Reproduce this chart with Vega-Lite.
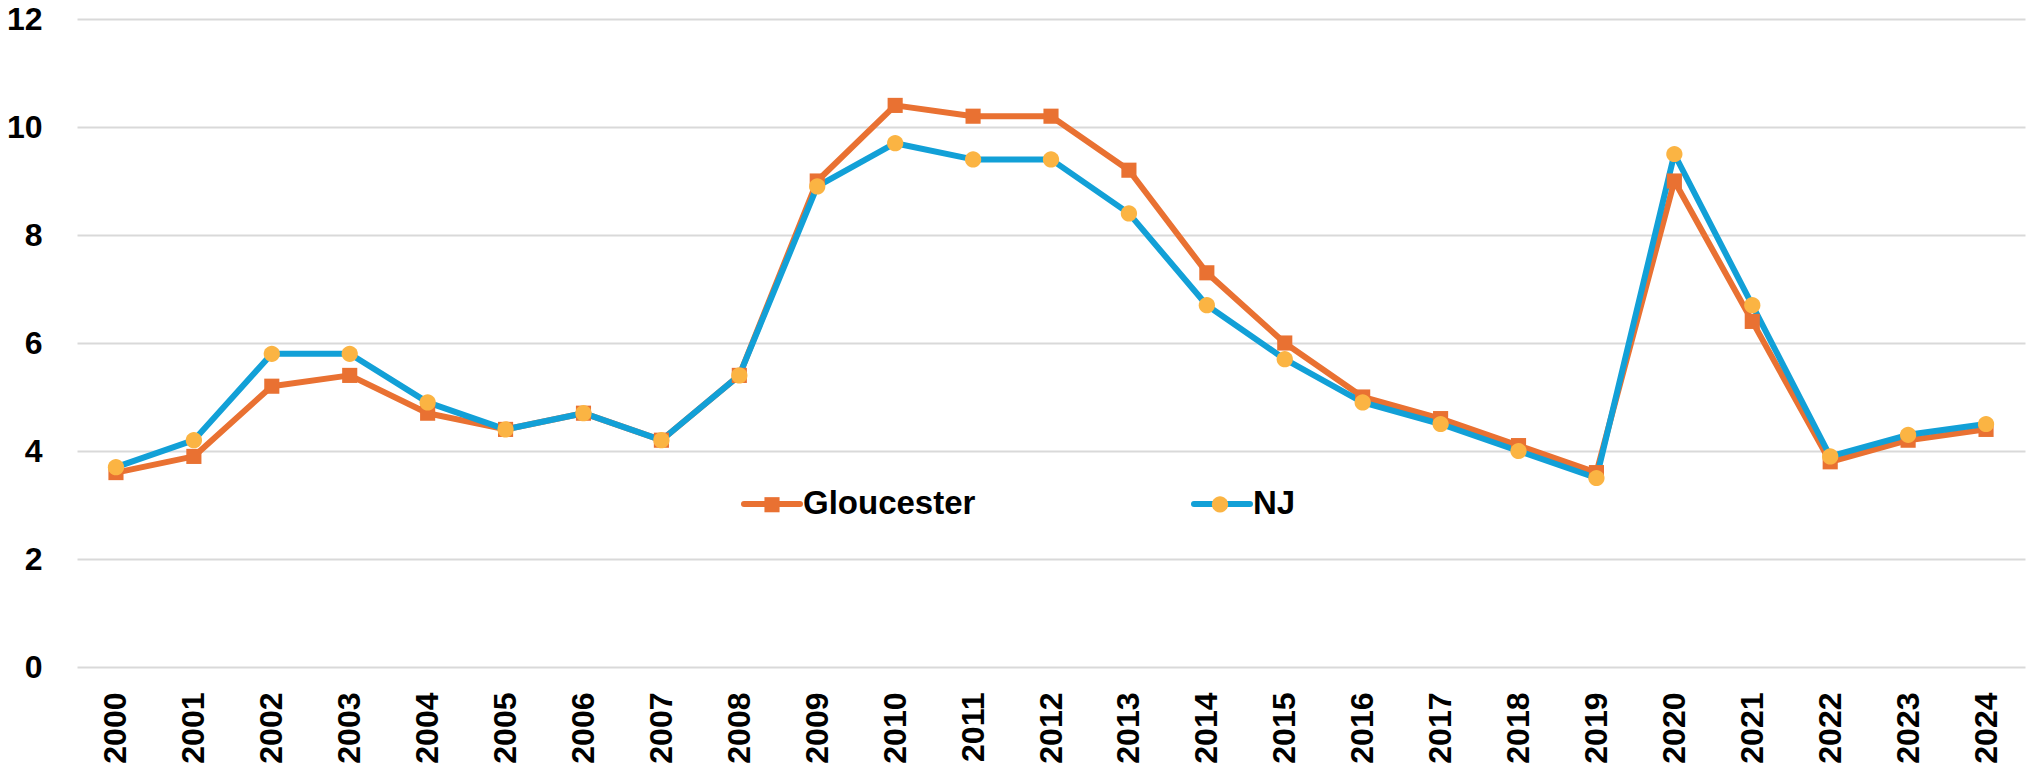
{
  "$schema": "https://vega.github.io/schema/vega-lite/v6.json",
  "width": 1948,
  "height": 648,
  "autosize": {"type": "none"},
  "padding": {"left": 77, "top": 19, "right": 3, "bottom": 104},
  "config": {
    "view": {"stroke": null},
    "font": "Liberation Sans",
    "axis": {"labelFont": "Liberation Sans", "labelFontWeight": "bold", "labelFontSize": 32, "labelColor": "#000000", "title": null}
  },
  "data": {
    "values": [
      {"year": "2000", "series": "Gloucester", "value": 3.6},
      {"year": "2001", "series": "Gloucester", "value": 3.9},
      {"year": "2002", "series": "Gloucester", "value": 5.2},
      {"year": "2003", "series": "Gloucester", "value": 5.4},
      {"year": "2004", "series": "Gloucester", "value": 4.7},
      {"year": "2005", "series": "Gloucester", "value": 4.4},
      {"year": "2006", "series": "Gloucester", "value": 4.7},
      {"year": "2007", "series": "Gloucester", "value": 4.2},
      {"year": "2008", "series": "Gloucester", "value": 5.4},
      {"year": "2009", "series": "Gloucester", "value": 9.0},
      {"year": "2010", "series": "Gloucester", "value": 10.4},
      {"year": "2011", "series": "Gloucester", "value": 10.2},
      {"year": "2012", "series": "Gloucester", "value": 10.2},
      {"year": "2013", "series": "Gloucester", "value": 9.2},
      {"year": "2014", "series": "Gloucester", "value": 7.3},
      {"year": "2015", "series": "Gloucester", "value": 6.0},
      {"year": "2016", "series": "Gloucester", "value": 5.0},
      {"year": "2017", "series": "Gloucester", "value": 4.6},
      {"year": "2018", "series": "Gloucester", "value": 4.1},
      {"year": "2019", "series": "Gloucester", "value": 3.6},
      {"year": "2020", "series": "Gloucester", "value": 9.0},
      {"year": "2021", "series": "Gloucester", "value": 6.4},
      {"year": "2022", "series": "Gloucester", "value": 3.8},
      {"year": "2023", "series": "Gloucester", "value": 4.2},
      {"year": "2024", "series": "Gloucester", "value": 4.4},
      {"year": "2000", "series": "NJ", "value": 3.7},
      {"year": "2001", "series": "NJ", "value": 4.2},
      {"year": "2002", "series": "NJ", "value": 5.8},
      {"year": "2003", "series": "NJ", "value": 5.8},
      {"year": "2004", "series": "NJ", "value": 4.9},
      {"year": "2005", "series": "NJ", "value": 4.4},
      {"year": "2006", "series": "NJ", "value": 4.7},
      {"year": "2007", "series": "NJ", "value": 4.2},
      {"year": "2008", "series": "NJ", "value": 5.4},
      {"year": "2009", "series": "NJ", "value": 8.9},
      {"year": "2010", "series": "NJ", "value": 9.7},
      {"year": "2011", "series": "NJ", "value": 9.4},
      {"year": "2012", "series": "NJ", "value": 9.4},
      {"year": "2013", "series": "NJ", "value": 8.4},
      {"year": "2014", "series": "NJ", "value": 6.7},
      {"year": "2015", "series": "NJ", "value": 5.7},
      {"year": "2016", "series": "NJ", "value": 4.9},
      {"year": "2017", "series": "NJ", "value": 4.5},
      {"year": "2018", "series": "NJ", "value": 4.0},
      {"year": "2019", "series": "NJ", "value": 3.5},
      {"year": "2020", "series": "NJ", "value": 9.5},
      {"year": "2021", "series": "NJ", "value": 6.7},
      {"year": "2022", "series": "NJ", "value": 3.9},
      {"year": "2023", "series": "NJ", "value": 4.3},
      {"year": "2024", "series": "NJ", "value": 4.5}
    ]
  },
  "encoding": {
    "x": {
      "field": "year",
      "type": "ordinal",
      "scale": {"type": "point", "padding": 0.5},
      "axis": {"labelAngle": -90, "domain": false, "ticks": false, "tickSize": 0, "labelPadding": 25, "grid": false}
    },
    "y": {
      "field": "value",
      "type": "quantitative",
      "scale": {"domain": [0, 12], "nice": false},
      "axis": {"values": [0, 2, 4, 6, 8, 10, 12], "domain": false, "ticks": false, "tickSize": 0, "labelPadding": 35, "grid": true, "gridColor": "#D9D9D9", "gridWidth": 2}
    }
  },
  "layer": [
    {
      "mark": {"type": "line", "strokeWidth": 6, "strokeJoin": "round", "strokeCap": "round"},
      "encoding": {
        "stroke": {
          "field": "series",
          "type": "nominal",
          "scale": {"domain": ["Gloucester", "NJ"], "range": ["#E97132", "#12A0D7"]},
          "legend": {
            "orient": "none", "legendX": 664, "legendY": 454, "direction": "horizontal", "title": null,
            "symbolType": "M-1,0H1", "symbolSize": 3136, "symbolStrokeWidth": 6,
            "labelFont": "Liberation Sans", "labelFontWeight": "bold", "labelFontSize": 33, "labelColor": "#000000",
            "labelOffset": 0, "columnPadding": 206, "labelLimit": 400, "zindex": 0,
            "encode": {"symbols": {"update": {"strokeCap": {"value": "round"}}}}
          }
        }
      }
    },
    {
      "mark": {"type": "point", "filled": true, "opacity": 1, "size": 3136, "strokeWidth": 0},
      "encoding": {
        "fill": {
          "field": "series",
          "type": "nominal",
          "scale": {"range": ["#E97132", "#FBB443"]},
          "legend": {
            "orient": "none", "legendX": 664, "legendY": 454, "direction": "horizontal", "title": null,
            "symbolSize": 3136, "symbolStrokeWidth": 6,
            "labelFont": "Liberation Sans", "labelFontWeight": "bold", "labelFontSize": 33, "labelExpr": "''",
            "labelOffset": 0, "columnPadding": 386, "labelLimit": 400, "zindex": 1,
            "encode": {"symbols": {"update": {"strokeWidth": {"value": 0}}}}
          }
        },
        "shape": {
          "field": "series",
          "type": "nominal",
          "scale": {"range": ["M-0.27,-0.27H0.27V0.27H-0.27Z", "M0.29,0A0.29,0.29,0,1,1,-0.29,0A0.29,0.29,0,1,1,0.29,0Z"]},
          "legend": {
            "orient": "none", "legendX": 664, "legendY": 454, "direction": "horizontal", "title": null,
            "symbolSize": 3136, "symbolStrokeWidth": 6,
            "labelFont": "Liberation Sans", "labelFontWeight": "bold", "labelFontSize": 33, "labelExpr": "''",
            "labelOffset": 0, "columnPadding": 386, "labelLimit": 400, "zindex": 1,
            "encode": {"symbols": {"update": {"strokeWidth": {"value": 0}}}}
          }
        }
      }
    }
  ]
}
